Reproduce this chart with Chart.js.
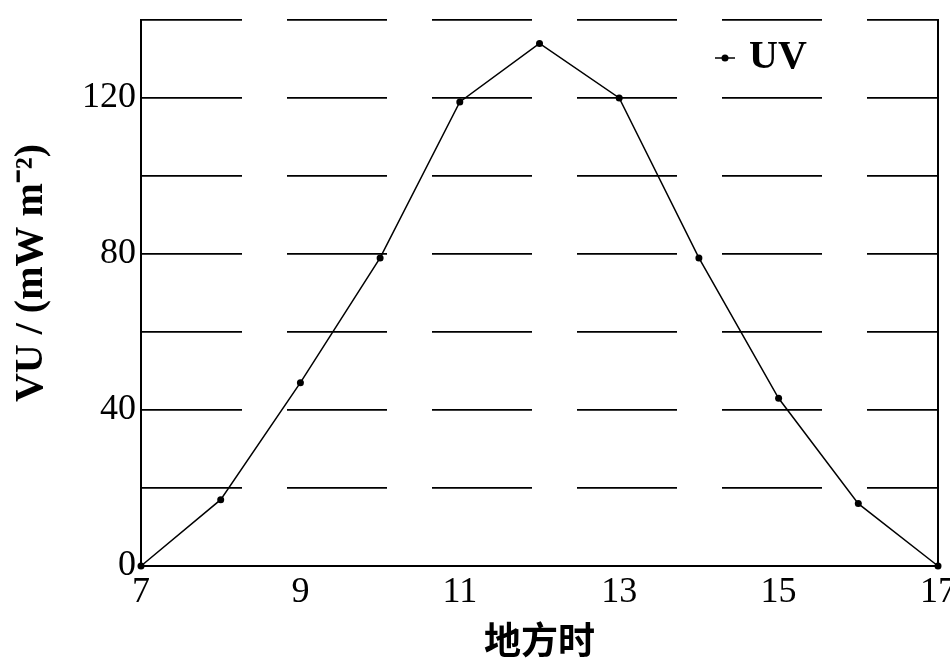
<!DOCTYPE html>
<html>
<head>
<meta charset="utf-8">
<script src="https://cdn.jsdelivr.net/npm/chart.js@4.4.0/dist/chart.umd.min.js"></script>
<style>
html, body { margin: 0; padding: 0; background: #fff; }
</style>
</head>
<body>
<canvas id="myChart" width="950" height="662"></canvas>
<script>
// data
let hours = [7, 8, 9, 10, 11, 12, 13, 14, 15, 16, 17]
let uv = [0, 17, 47, 79, 119, 134, 120, 79, 43, 16, 0]
let xTicks = [7, 9, 11, 13, 15, 17]
let yTicks = [0, 40, 80, 120]
let seriesName = 'UV'

const serif = '"Liberation Serif", "Times New Roman", serif'

// legend drawn inside the plot, top right
const uvLegend = {
    id: 'uvLegend',
    afterDraw(chart) {
        const ctx = chart.ctx
        const a = chart.chartArea
        let x = a.right - 223
        let y = a.top + 38
        ctx.save()
        ctx.strokeStyle = '#000'
        ctx.fillStyle = '#000'
        ctx.lineWidth = 1.5
        ctx.beginPath()
        ctx.moveTo(x, y)
        ctx.lineTo(x + 20, y)
        ctx.stroke()
        ctx.beginPath()
        ctx.arc(x + 10, y, 3.5, 0, Math.PI * 2)
        ctx.fill()
        ctx.font = 'bold 40px ' + serif
        ctx.textBaseline = 'middle'
        ctx.fillText(seriesName, x + 34, y)
        ctx.restore()
    }
}

function chartPlotting(xs, ys) {
    const ctx = document.getElementById('myChart')
    let points = xs.map((h, i) => ({ x: h, y: ys[i] }))

    new Chart(ctx, {
        type: 'line',
        data: {
            datasets: [{
                label: seriesName,
                data: points,
                borderColor: '#000',
                backgroundColor: '#000',
                borderWidth: 1.5,
                pointRadius: 3.5,
                pointBorderWidth: 0,
                tension: 0,
                clip: false
            }]
        },
        plugins: [uvLegend],
        options: {
            responsive: false,
            animation: false,
            layout: { padding: { top: 20, right: 0, left: 0, bottom: 0 } },
            plugins: {
                legend: { display: false },
                tooltip: { enabled: false }
            },
            scales: {
                x: {
                    type: 'linear',
                    min: 7,
                    max: 17,
                    afterBuildTicks: (scale) => { scale.ticks = xTicks.map(v => ({ value: v })) },
                    afterFit: (scale) => {
                        scale.height = 96
                        scale.paddingLeft = 0
                        scale.paddingRight = 0
                    },
                    grid: { display: false, drawTicks: false },
                    border: { display: true, color: '#000', width: 2 },
                    ticks: {
                        color: '#000',
                        padding: 5,
                        maxRotation: 0,
                        autoSkip: false,
                        font: { family: serif, size: 36 }
                    },
                    title: {
                        display: true,
                        text: '地方时',
                        color: '#000',
                        padding: { top: 0, bottom: 0 },
                        font: { family: '"Noto Sans CJK SC", sans-serif', size: 37, weight: 'bold' }
                    }
                },
                y: {
                    min: 0,
                    max: 140,
                    afterFit: (scale) => {
                        scale.width = 141
                        scale.paddingTop = 0
                        scale.paddingBottom = 0
                    },
                    ticks: {
                        stepSize: 20,
                        color: '#000',
                        padding: 5,
                        font: { family: serif, size: 36 },
                        callback: (v) => yTicks.includes(v) ? String(v) : ''
                    },
                    grid: { color: '#000', lineWidth: 1.8, drawTicks: false },
                    border: { display: true, color: '#000', width: 2, dash: [100, 45] },
                    title: {
                        display: true,
                        text: '    VU / (mW m⁻²)',
                        color: '#000',
                        padding: { top: 8, bottom: 0 },
                        font: { family: serif, size: 40, weight: 'bold' }
                    }
                },
                y2: {
                    position: 'right',
                    min: 0,
                    max: 140,
                    afterFit: (scale) => {
                        scale.width = 12
                        scale.paddingTop = 0
                        scale.paddingBottom = 0
                    },
                    ticks: { display: false },
                    grid: { display: false },
                    border: { display: true, color: '#000', width: 2 }
                }
            }
        }
    })
}

chartPlotting(hours, uv)
</script>
</body>
</html>
